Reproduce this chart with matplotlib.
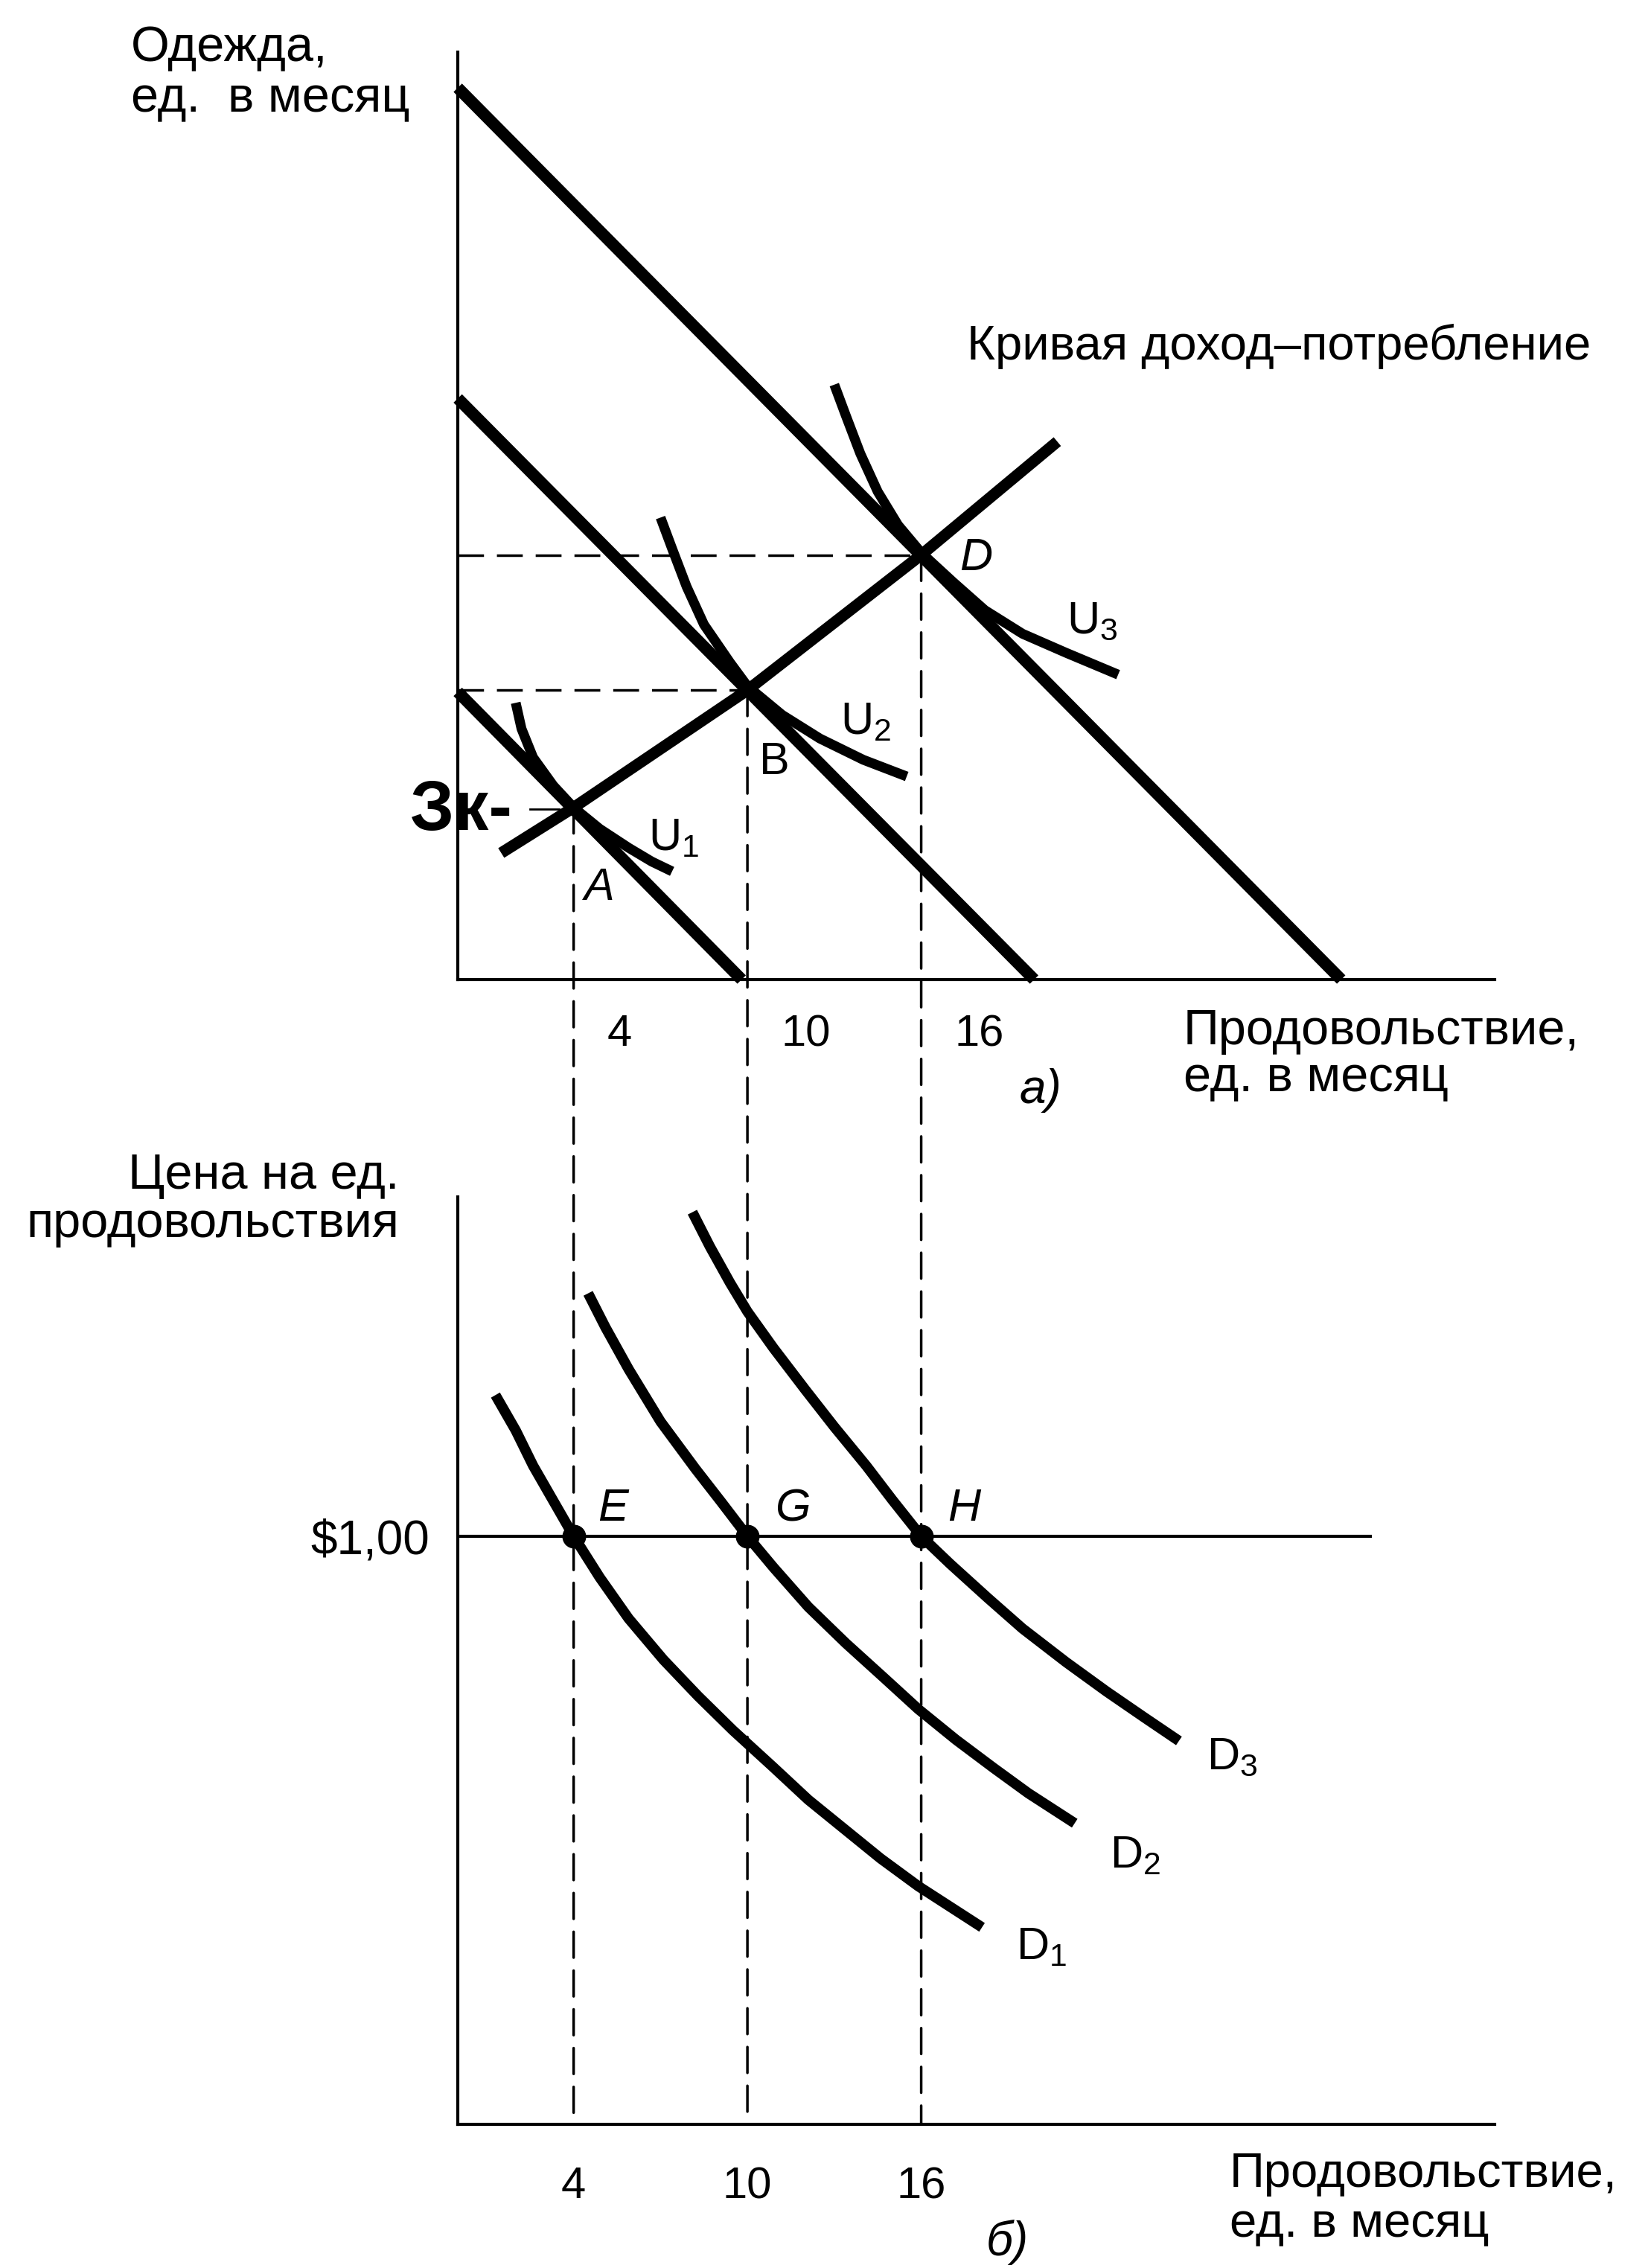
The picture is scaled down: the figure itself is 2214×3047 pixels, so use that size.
import matplotlib
matplotlib.use("Agg")
import matplotlib.pyplot as plt
from matplotlib.patches import ConnectionPatch
from matplotlib.transforms import offset_copy

plt.rcParams['font.family'] = ['Liberation Sans', 'DejaVu Sans']
plt.rcParams['mathtext.fontset'] = 'custom'
plt.rcParams['mathtext.rm'] = 'Liberation Sans'
plt.rcParams['mathtext.it'] = 'Liberation Sans:italic'
plt.rcParams['mathtext.default'] = 'regular'

# ---- data, panel a) : clothing vs food ----
budget_food = [30.5, 19.9, 9.8]        # food intercepts of the budget lines
budget_clothing = [15.5, 10.1, 5.0]    # clothing intercepts
icc_food = [1.5, 4.0, 10.0, 16.0, 20.7]
icc_clothing = [2.2, 2.99, 5.03, 7.38, 9.35]

u1_food = [2.0, 2.2, 2.6, 3.3, 4.0, 4.9, 5.9, 6.7, 7.4]
u1_clothing = [4.81, 4.36, 3.86, 3.37, 2.99, 2.62, 2.29, 2.05, 1.88]
u2_food = [7.0, 7.4, 7.9, 8.5, 9.4, 10.0, 11.2, 12.5, 14.0, 15.5]
u2_clothing = [8.03, 7.49, 6.83, 6.17, 5.51, 5.10, 4.60, 4.19, 3.82, 3.53]
u3_food = [13.0, 13.4, 13.9, 14.5, 15.2, 16.0, 17.1, 18.2, 19.5, 21.0, 22.8]
u3_clothing = [10.34, 9.80, 9.14, 8.48, 7.90, 7.42, 6.91, 6.42, 6.01, 5.68, 5.30]

opt_food = [4, 10, 16]
opt_clothing = [2.99, 5.03, 7.38]
food_labels = ['4', '10', '16']

# ---- data, panel б) : price vs food ----
price = 1.0
price_line_end = 31.5
d1_food = [1.3, 2.0, 2.6, 3.3, 4.0, 4.9, 5.9, 7.1, 8.3, 9.5, 10.9, 12.1, 13.4, 14.6, 15.9, 17.0, 18.1]
d1_price = [1.24, 1.18, 1.12, 1.06, 1.00, 0.93, 0.86, 0.79, 0.728, 0.67, 0.607, 0.552, 0.50, 0.452, 0.405, 0.37, 0.335]
d2_food = [4.5, 5.1, 5.9, 7.0, 8.2, 9.1, 10.0, 10.9, 12.1, 13.4, 14.7, 15.9, 17.2, 18.5, 19.7, 21.3]
d2_price = [1.413, 1.355, 1.284, 1.195, 1.115, 1.058, 1.0, 0.947, 0.880, 0.818, 0.760, 0.706, 0.654, 0.606, 0.563, 0.512]
d3_food = [8.1, 8.7, 9.4, 10.0, 10.9, 12.0, 13.0, 14.1, 15.0, 16.0, 17.0, 18.3, 19.5, 21.0, 22.4, 23.7, 24.9]
d3_price = [1.551, 1.493, 1.431, 1.382, 1.320, 1.249, 1.186, 1.120, 1.062, 1.0, 0.953, 0.895, 0.843, 0.786, 0.736, 0.692, 0.652]

W, H = 2214, 3047
fig = plt.figure(figsize=(W / 100, H / 100), dpi=100)


def px_rect(l, t, r, b):
    return [l / W, 1 - b / H, (r - l) / W, (b - t) / H]


def ftext(x, y, s, **kw):
    kw.setdefault('va', 'baseline')
    fig.text(x / W, 1 - y / H, s, **kw)


def style_axes(ax):
    for side in ['top', 'right']:
        ax.spines[side].set_visible(False)
    for side in ['left', 'bottom']:
        ax.spines[side].set_linewidth(3)
    ax.set_xticks([])
    ax.set_yticks([])
    ax.patch.set_alpha(0)


ax1 = fig.add_axes(px_rect(615, 70, 2008, 1316))
ax1.set_xlim(0, 35.8)
ax1.set_ylim(0, 16.12)
style_axes(ax1)

ax2 = fig.add_axes(px_rect(615, 1608, 2008, 2854))
ax2.set_xlim(0, 35.8)
ax2.set_ylim(0, 1.577)
style_axes(ax2)

dash = (0, (10, 5))

# budget lines
for bf, bc in zip(budget_food, budget_clothing):
    ax1.plot([0, bf], [bc, 0], color='black', lw=11.5, solid_capstyle='butt', clip_on=False)

# income-consumption curve
ax1.plot(icc_food, icc_clothing, color='black', lw=11, solid_capstyle='butt')

# indifference curves
for uf, uc in [(u1_food, u1_clothing), (u2_food, u2_clothing), (u3_food, u3_clothing)]:
    ax1.plot(uf, uc, color='black', lw=9.5, solid_capstyle='butt', solid_joinstyle='round')

# horizontal dashed guides at B and D
for i in [1, 2]:
    ax1.plot([0, opt_food[i]], [opt_clothing[i]] * 2, color='black', lw=2.5, ls=dash)

# vertical dashed guides from top optimum down to bottom axis
for f, c in zip(opt_food, opt_clothing):
    con = ConnectionPatch(xyA=(f, c), coordsA=ax1.transData,
                          xyB=(f, 0), coordsB=ax2.transData,
                          color='black', lw=2.5, ls=dash, zorder=0)
    fig.add_artist(con)

# connector from "Зк-" to A
ax1.plot([opt_food[0] - 1.5, opt_food[0] - 0.5], [opt_clothing[0] - 0.03] * 2,
         color='black', lw=2)

# price line and demand curves
ax2.plot([0, price_line_end], [price, price], color='black', lw=3)
for df, dp in [(d1_food, d1_price), (d2_food, d2_price), (d3_food, d3_price)]:
    ax2.plot(df, dp, color='black', lw=10, solid_capstyle='butt', solid_joinstyle='round')
ax2.plot(opt_food, [price] * len(opt_food), 'o', color='black', ms=22)

ax2.set_yticks([price])
ax2.set_yticklabels(['\\$1,00'], fontsize=46)
ax2.tick_params(axis='y', length=0, pad=27)

# tick labels under the axes
top_off = offset_copy(ax1.transData, fig=fig, x=45, y=-89, units='dots')
bot_off = offset_copy(ax2.transData, fig=fig, x=0, y=-99, units='dots')
for f, lab in zip(opt_food, food_labels):
    ax1.text(f, 0, lab, transform=top_off, ha='left', va='baseline', fontsize=43)
    ax2.text(f, 0, lab, transform=bot_off, ha='center', va='baseline', fontsize=43)

# texts, panel a)
ftext(176, 82, 'Одежда,', fontsize=48)
ftext(176, 150, 'ед.  в месяц', fontsize=48)
ftext(1299, 483, 'Кривая доход–потребление', fontsize=47)
ftext(1311, 766, 'D', fontsize=44, style='italic', ha='center')
ftext(1433, 850, 'U$_3$', fontsize=44)
ftext(1129, 986, 'U$_2$', fontsize=44)
ftext(1040, 1040, 'B', fontsize=44, ha='center')
ftext(871, 1142, 'U$_1$', fontsize=44)
ftext(804, 1209, 'A', fontsize=44, style='italic', ha='center')
ftext(551, 1115, 'Зк-', fontsize=68, fontweight='bold')
ftext(1590, 1403, 'Продовольствие,', fontsize=48)
ftext(1590, 1466, 'ед. в месяц', fontsize=48)
ftext(1370, 1482, 'а)', fontsize=46, style='italic')

# texts, panel б)
ftext(536, 1597, 'Цена на ед.', fontsize=48, ha='right')
ftext(536, 1662, 'продовольствия', fontsize=48, ha='right')
ftext(803, 2043, 'E', fontsize=44, style='italic')
ftext(1042, 2043, 'G', fontsize=44, style='italic')
ftext(1273, 2043, 'H', fontsize=44, style='italic')
ftext(1365, 2632, 'D$_1$', fontsize=44)
ftext(1491, 2509, 'D$_2$', fontsize=44)
ftext(1621, 2376, 'D$_3$', fontsize=44)
ftext(1652, 2938, 'Продовольствие,', fontsize=47)
ftext(1652, 3005, 'ед. в месяц', fontsize=47)
ftext(1325, 3030, 'б)', fontsize=46, style='italic')

fig.savefig('out.png', dpi=100, facecolor='white')
